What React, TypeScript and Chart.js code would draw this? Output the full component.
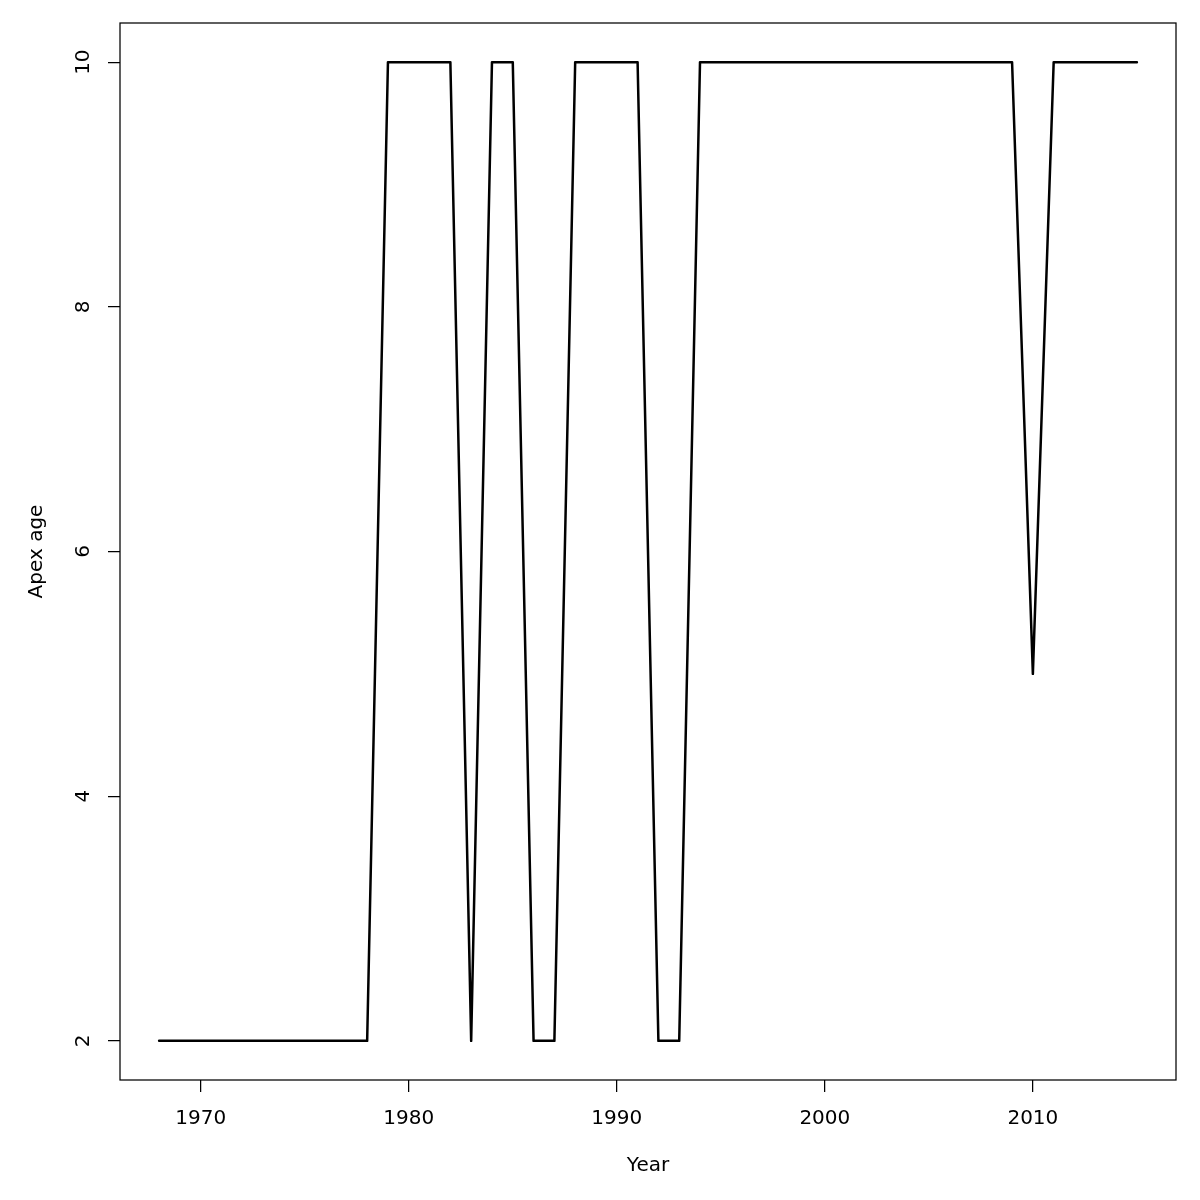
import React, { useEffect, useRef } from "react";
import { Chart, registerables } from "chart.js";

Chart.register(...registerables);

const years = [
  1968, 1969, 1970, 1971, 1972, 1973, 1974, 1975, 1976, 1977, 1978, 1979,
  1980, 1981, 1982, 1983, 1984, 1985, 1986, 1987, 1988, 1989, 1990, 1991,
  1992, 1993, 1994, 1995, 1996, 1997, 1998, 1999, 2000, 2001, 2002, 2003,
  2004, 2005, 2006, 2007, 2008, 2009, 2010, 2011, 2012, 2013, 2014, 2015,
];
const apexAge = [
  2, 2, 2, 2, 2, 2, 2, 2, 2, 2, 2, 10,
  10, 10, 10, 2, 10, 10, 2, 2, 10, 10, 10, 10,
  2, 2, 10, 10, 10, 10, 10, 10, 10, 10, 10, 10,
  10, 10, 10, 10, 10, 10, 5, 10, 10, 10, 10, 10,
];
const xTicks = [1970, 1980, 1990, 2000, 2010];
const yTicks = [2, 4, 6, 8, 10];
const xTitle = "Year";
const yTitle = "Apex age";

const FONT = "'DejaVu Sans', sans-serif";

const boxPlugin = {
  id: "rbox",
  afterDraw(chart: any) {
    const { ctx, chartArea } = chart;
    ctx.save();
    ctx.strokeStyle = "#000";
    ctx.lineWidth = 1.25;
    ctx.strokeRect(chartArea.left, chartArea.top, chartArea.right - chartArea.left, chartArea.bottom - chartArea.top);
    ctx.restore();
  },
};

export default function App() {
  const ref = useRef<HTMLCanvasElement | null>(null);
  useEffect(() => {
    if (!ref.current) return;
    const xmin = years[0] - 0.04 * (years[years.length - 1] - years[0]);
    const xmax = years[years.length - 1] + 0.04 * (years[years.length - 1] - years[0]);
    const ymin = 2 - 0.04 * 8;
    const ymax = 10 + 0.04 * 8;
    const chart = new Chart(ref.current, {
      type: "line",
      data: {
        datasets: [
          {
            data: years.map((y, i) => ({ x: y, y: apexAge[i] })),
            borderColor: "#000",
            borderWidth: 2.5,
            pointRadius: 0,
            tension: 0,
            borderJoinStyle: "round",
            borderCapStyle: "round",
            fill: false,
          },
        ],
      },
      options: {
        animation: false,
        responsive: false,
        events: [],
        layout: { padding: { left: 0, top: 23, right: 24, bottom: 0 } },
        plugins: { legend: { display: false }, tooltip: { enabled: false } },
        scales: {
          x: {
            type: "linear",
            position: "bottom",
            min: xmin,
            max: xmax,
            afterBuildTicks: (s: any) => {
              s.ticks = xTicks.map((v) => ({ value: v }));
            },
            afterFit: (s: any) => {
              s.height = 120;
            },
            border: { display: false },
            grid: {
              display: true,
              drawOnChartArea: false,
              drawTicks: true,
              tickLength: 12,
              color: "#000",
              lineWidth: 1.25,
            },
            ticks: {
              color: "#000",
              font: { family: FONT, size: 20 },
              padding: 15,
              maxRotation: 0,
              minRotation: 0,
              autoSkip: false,
              callback: (v: any) => String(v),
            },
            title: {
              display: true,
              text: xTitle,
              color: "#000",
              font: { family: FONT, size: 20 },
              padding: { top: 0, bottom: 22 },
            },
          },
          y: {
            type: "linear",
            position: "left",
            min: ymin,
            max: ymax,
            afterBuildTicks: (s: any) => {
              s.ticks = yTicks.map((v) => ({ value: v }));
            },
            afterFit: (s: any) => {
              s.width = 120;
            },
            border: { display: false },
            grid: {
              display: true,
              drawOnChartArea: false,
              drawTicks: true,
              tickLength: 12,
              color: "#000",
              lineWidth: 1.25,
            },
            ticks: {
              color: "#000",
              font: { family: FONT, size: 20 },
              padding: 11,
              minRotation: 90,
              maxRotation: 90,
              crossAlign: "center",
              autoSkip: false,
              callback: (v: any) => String(v),
            },
            title: {
              display: true,
              text: yTitle,
              color: "#000",
              font: { family: FONT, size: 20 },
              padding: { top: 25, bottom: 0 },
            },
          },
        },
      },
      plugins: [boxPlugin],
    } as any);
    return () => chart.destroy();
  }, []);
  return (
    <div style={{ position: "absolute", left: 0, top: 0, width: 1200, height: 1200, background: "#fff" }}>
      <canvas ref={ref} width={1200} height={1200} style={{ width: 1200, height: 1200, display: "block" }} />
    </div>
  );
}
